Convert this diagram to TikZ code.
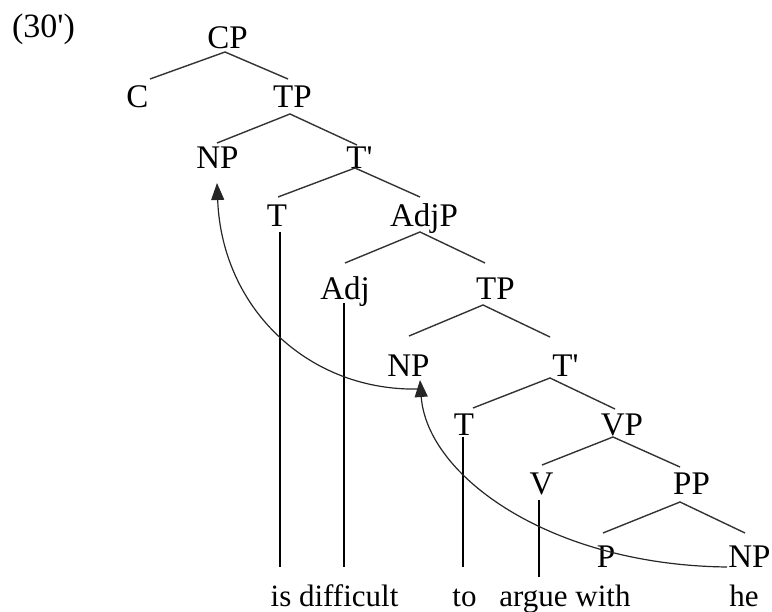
\documentclass[tikz,border=0pt]{standalone}
\usepackage{fontspec}
\setmainfont{Liberation Serif}[Ligatures=TeXOff]
\usetikzlibrary{arrows.meta}
\begin{document}
\begin{tikzpicture}[x=1pt,y=-1pt,
  lbl/.style={anchor=base,inner sep=0pt,font=\fontsize{33}{38}\selectfont},
  word/.style={anchor=base,inner sep=0pt,font=\fontsize{31}{36}\selectfont},
  branch/.style={line width=1.4pt,draw=black!80},
  stem/.style={line width=1.5pt,draw=black},
  move/.style={line width=1.2pt,draw=black!85,-{Triangle[length=17pt,width=13pt]}}]
\useasboundingbox (0,0) rectangle (772,612);
% labels
\node[lbl,font=\fontsize{34}{38}\selectfont] (ex) at (43.5,38) {(30')};
\node[lbl] (CP)   at (227.5,49) {CP};
\node[lbl] (C)    at (137.5,108) {C};
\node[lbl] (TPa)  at (292.5,108) {TP};
\node[lbl] (NPa)  at (217.5,169) {NP};
\node[lbl] (Tba)  at (359.5,169) {T'};
\node[lbl] (Ta)   at (277,227)  {T};
\node[lbl] (AdjP) at (424,227)  {AdjP};
\node[lbl] (Adj)  at (345,300)  {Adj};
\node[lbl] (TPb)  at (495.5,300) {TP};
\node[lbl] (NPb)  at (408.5,377) {NP};
\node[lbl] (Tbb)  at (565.5,377) {T'};
\node[lbl] (Tb)   at (464,436)  {T};
\node[lbl] (VP)   at (622,436)  {VP};
\node[lbl] (V)    at (541.5,495) {V};
\node[lbl] (PP)   at (691.5,495) {PP};
\node[lbl] (P)    at (606,568)  {P};
\node[lbl] (NPc)  at (749.5,568) {NP};
% words
\node[word] (w1) at (334.5,606) {is difficult};
\node[word] (w2) at (464.5,606) {to};
\node[word] (w3) at (565,606)   {argue with};
\node[word] (w4) at (744,606)   {he};
% branch points (below parents) and branch ends (above children)
\coordinate (CP-b)  at (225,52);
\coordinate (TPa-b) at (290,114);
\coordinate (Tba-b) at (355,168);
\coordinate (AdjP-b) at (420,232);
\coordinate (TPb-b) at (483,305);
\coordinate (Tbb-b) at (550,378);
\coordinate (VP-b)  at (613,437);
\coordinate (PP-b)  at (680,502);
\coordinate (C-t)   at (150,79);
\coordinate (TPa-t) at (288,79);
\coordinate (NPa-t) at (217,143);
\coordinate (Tba-t) at (357,145);
\coordinate (Ta-t)  at (278,197);
\coordinate (AdjP-t) at (420,197);
\coordinate (Adj-t) at (345,263);
\coordinate (TPb-t) at (485,263);
\coordinate (NPb-t) at (409,336);
\coordinate (Tbb-t) at (550,337);
\coordinate (Tb-t)  at (473,408);
\coordinate (VP-t)  at (615,409);
\coordinate (V-t)   at (542,465);
\coordinate (PP-t)  at (680,467);
\coordinate (P-t)   at (603,533);
\coordinate (NPc-t) at (745,533);
% branches
\draw[branch] (C-t) -- (CP-b) -- (TPa-t);
\draw[branch] (NPa-t) -- (TPa-b) -- (Tba-t);
\draw[branch] (Ta-t) -- (Tba-b) -- (AdjP-t);
\draw[branch] (Adj-t) -- (AdjP-b) -- (TPb-t);
\draw[branch] (NPb-t) -- (TPb-b) -- (Tbb-t);
\draw[branch] (Tb-t) -- (Tbb-b) -- (VP-t);
\draw[branch] (V-t) -- (VP-b) -- (PP-t);
\draw[branch] (P-t) -- (PP-b) -- (NPc-t);
% stems to the words
\coordinate (s1a) at (280,232); \coordinate (s1b) at (280,567);
\coordinate (s2a) at (344,303); \coordinate (s2b) at (344,567);
\coordinate (s3a) at (463,437); \coordinate (s3b) at (463,567);
\coordinate (s4a) at (539,500); \coordinate (s4b) at (539,577);
\draw[stem] (s1a) -- (s1b);
\draw[stem] (s2a) -- (s2b);
\draw[stem] (s3a) -- (s3b);
\draw[stem] (s4a) -- (s4b);
% movement arrows
\coordinate (m1s) at (727,567);
\coordinate (m1e) at (420,380);
\coordinate (m2s) at (420,389);
\coordinate (m2e) at (217,183);
\draw[move] (m1s) .. controls (550,565) and (427,476) .. (m1e);
\draw[move] (m2s) .. controls (310,392) and (222,310) .. (m2e);
\end{tikzpicture}
\end{document}
